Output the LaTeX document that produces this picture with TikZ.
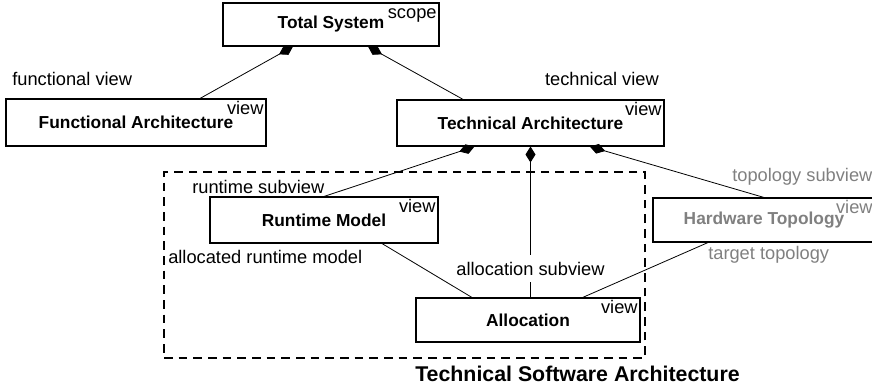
\documentclass[tikz,border=0pt]{standalone}
\usepackage{fontspec}
\setmainfont{Liberation Sans}
\usepackage{tikz}
\usetikzlibrary{arrows.meta}
\definecolor{hwgray}{RGB}{128,128,128}

\begin{document}
\begin{tikzpicture}[x=0.75pt,y=0.75pt,yscale=-1,xscale=1,
  every node/.style={font=\fontsize{13.7}{16}\selectfont},
  block/.style={draw, line width=0.8pt, fill=white, inner sep=0pt, font=\fontsize{13}{15}\selectfont\bfseries},
  tag/.style={anchor=north east, inner xsep=2pt, inner ysep=1.5pt, text height=10pt},
  lbl/.style={inner sep=0pt},
  frame/.style={draw, line width=1.6pt, dash pattern=on 6.5pt off 4.5pt, inner sep=0pt},
  comp/.style={line width=0.6pt, {Diamond[length=12pt,width=7.5pt]}-},
  link/.style={line width=0.6pt}
]
%set diagram to the size of the reference
\useasboundingbox (0,0) rectangle (872,386);

%Shape: Dashed Frame
\node[frame, minimum width=360.75pt, minimum height=139.5pt] (tsa) at (404.5,265) {};

%Shape: Rectangle
\node[block, minimum width=162pt, minimum height=32.25pt] (ts) at (331,24.5) {Total System};
\node[tag] (ts-tag) at (ts.north east) {scope};
%Shape: Rectangle
\node[block, minimum width=195pt, minimum height=35.25pt] (fa) at (136,122.5) {Functional Architecture};
\node[tag] (fa-tag) at (fa.north east) {view};
%Shape: Rectangle
\node[block, minimum width=200.25pt, minimum height=34.5pt] (ta) at (530.5,123) {Technical Architecture};
\node[tag] (ta-tag) at (ta.north east) {view};
%Shape: Rectangle
\node[block, minimum width=171pt, minimum height=34.5pt] (rm) at (324,220) {Runtime Model};
\node[tag] (rm-tag) at (rm.north east) {view};
%Shape: Rectangle
\node[block, minimum width=168pt, minimum height=33pt] (al) at (528,320) {Allocation};
\node[tag] (al-tag) at (al.north east) {view};
%Shape: Rectangle
\node[block, text=hwgray, minimum width=166.5pt, minimum height=33pt] (ht) at (764,220) {Hardware Topology};
\node[tag, text=hwgray] (ht-tag) at (ht.north east) {view};

%Straight Lines
\draw[comp] ([xshift=-28.5pt]ts.south) -- ([xshift=48pt]fa.north);
%Straight Lines
\draw[comp] ([xshift=27.75pt]ts.south) -- ([xshift=-50.5pt]ta.north);
%Straight Lines
\draw[comp] ([xshift=-42pt]ta.south) -- (rm.north);
%Straight Lines
\draw[comp] (ta.south) -- (ta.south |- al.north)
  node[pos=0.81, fill=white, inner xsep=1pt, inner ysep=5pt] (asv) {allocation subview};
%Straight Lines
\draw[comp] ([xshift=44.5pt]ta.south) -- (ht.north);
%Straight Lines
\draw[link] ([xshift=43.5pt]rm.south) -- ([xshift=-42pt]al.north);
%Straight Lines
\draw[link] ([xshift=41pt]al.north) -- ([xshift=-42pt]ht.south);

% Text Node
\node[lbl, anchor=west] (fv) at (12,79) {functional view};
% Text Node
\node[lbl, anchor=east] (tv) at (659,79) {technical view};
% Text Node
\node[lbl, anchor=west] (rsv) at (192,187) {runtime subview};
% Text Node
\node[lbl, anchor=west] (arm) at (168,257) {allocated runtime model};
% Text Node
\node[lbl, anchor=west, text=hwgray] (tsv) at (732,177) {topology subview};
% Text Node
\node[lbl, anchor=west, text=hwgray] (tt) at (708,255) {target topology};
% Text Node
\node[lbl, anchor=west, font=\fontsize{16}{19}\selectfont\bfseries] (tsa-cap) at (415,374) {Technical Software Architecture};

\end{tikzpicture}
\end{document}
